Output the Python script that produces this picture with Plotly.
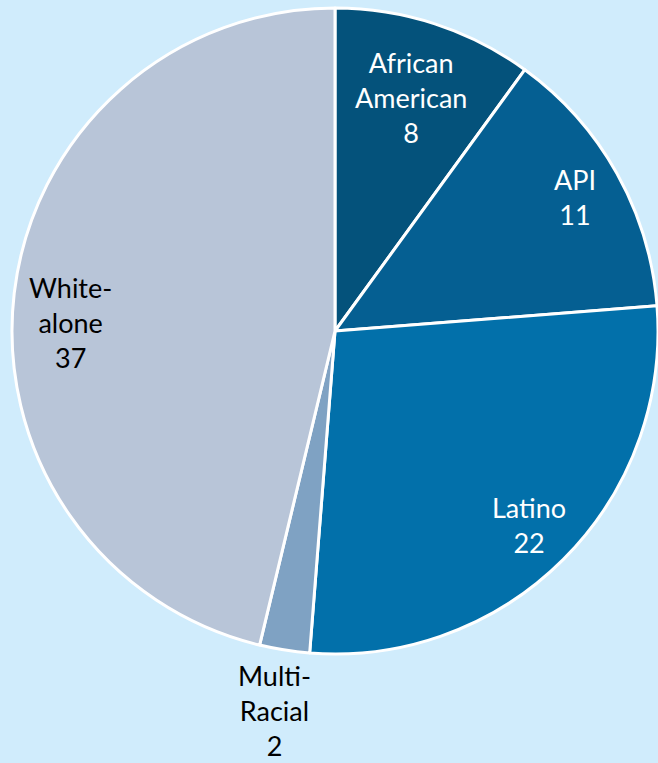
import math
import plotly.graph_objects as go

labels = ["African<br>American", "API", "Latino", "Multi-<br>Racial", "White-<br>alone"]
values = [8, 11, 22, 2, 37]

# styles
colors = ["#04527b", "#055f92", "#0270aa", "#7fa2c3", "#b8c5d8"]
text_colors = ["white", "white", "white", "black", "black"]
label_r = [0.76, 0.85, 0.85, 1.19, 0.82]      # radial position of label, fraction of radius
label_nudge = [0, 0, 0, 0, -5]               # degrees (label placement like Excel best-fit)

W, H = 658, 763
cx, cy, R = 335, 331, 323  # pie centre / radius in px

dom_x = [(cx - R) / W, (cx + R) / W]
dom_y = [1 - (cy + R) / H, 1 - (cy - R) / H]

fig = go.Figure(go.Pie(
    labels=labels,
    values=values,
    sort=False,
    direction="clockwise",
    rotation=0,
    marker=dict(colors=colors, line=dict(color="white", width=3)),
    textinfo="none",
    hoverinfo="label+value",
    showlegend=False,
    domain=dict(x=dom_x, y=dom_y),
))

total = sum(values)
cum = 0
for lab, v, tc, rf, nd in zip(labels, values, text_colors, label_r, label_nudge):
    mid = (cum + v / 2) / total * 360 + nd
    cum += v
    th = math.radians(mid)
    px = cx + rf * R * math.sin(th)
    py = cy - rf * R * math.cos(th)
    fig.add_annotation(
        x=px / W, y=1 - py / H, xref="paper", yref="paper",
        text=f"{lab}<br>{v}", showarrow=False,
        xanchor="center", yanchor="middle", align="center",
        font=dict(family="Lato, sans-serif", size=27, color=tc),
    )

fig.update_layout(
    width=W, height=H,
    margin=dict(l=0, r=0, t=0, b=0),
    paper_bgcolor="#d0ecfc",
    plot_bgcolor="#d0ecfc",
)

fig.write_html("out.html", config={"displayModeBar": False},
               post_script="document.body.style.margin='0';")
